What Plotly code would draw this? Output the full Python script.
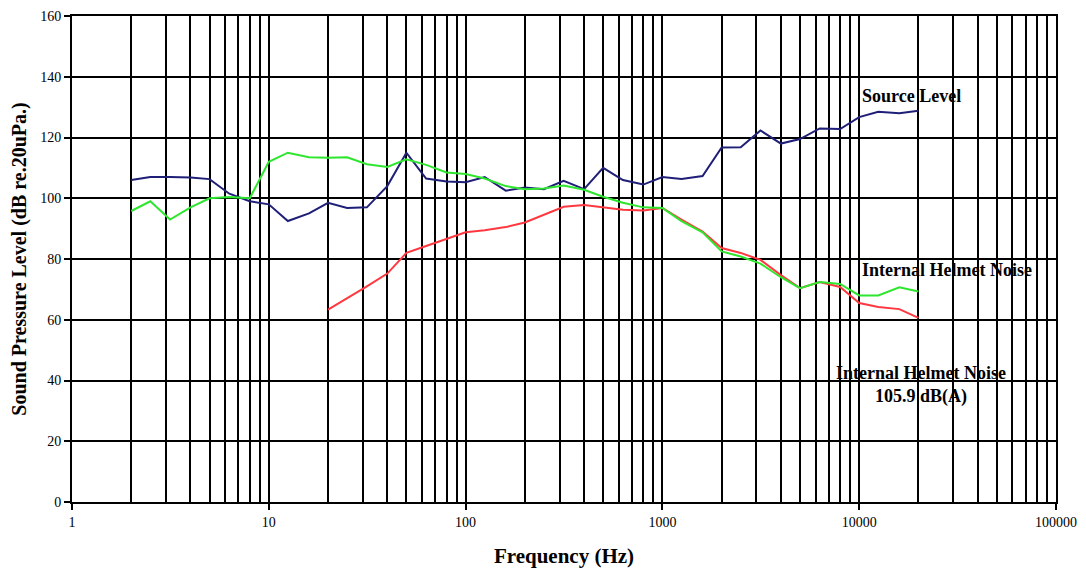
import plotly.graph_objects as go

freq = [2, 2.5, 3.15, 4, 5, 6.3, 8, 10, 12.5, 16, 20, 25, 31.5, 40, 50, 63, 80, 100, 125, 160,
        200, 250, 315, 400, 500, 630, 800, 1000, 1250, 1600, 2000, 2500, 3150, 4000, 5000,
        6300, 8000, 10000, 12500, 16000, 20000]

source_level = [106, 107, 107, 106.8, 106.3, 101.5, 99, 98, 92.5, 95, 98.5, 96.8, 97, 104, 115,
                106.5, 105.5, 105.3, 107, 102.5, 103.5, 103, 105.7, 103, 110, 106, 104.5, 107,
                106.3, 107.3, 116.7, 116.8, 122.3, 118, 119.5, 123, 122.8, 126.7, 128.5, 128, 128.8]

helmet_noise = [95.8, 99, 93, 97, 100, 100.4, 100, 112, 115, 113.5, 113.3, 113.5, 111.2, 110.3,
                112.8, 111, 108.5, 108, 106.5, 104, 103, 103.2, 104.2, 102.8, 100.5, 98.5, 97,
                96.8, 92.5, 88.8, 82.5, 80.8, 78.5, 74, 70.4, 72.4, 71.8, 68, 68, 70.7, 69.3]

freq_a = freq[10:]
helmet_noise_a = [63.3, 67, 71, 75.2, 82, 84.3, 86.5, 88.8, 89.5, 90.5, 92, 94.5, 97.2, 97.8,
                  97, 96.2, 96, 96.8, 93, 89, 83.6, 82, 79.7, 74.7, 70.4, 72.4, 70.8, 65.5,
                  64.2, 63.5, 60.6]

y_ticks = [0, 20, 40, 60, 80, 100, 120, 140, 160]
x_ticks = [1, 10, 100, 1000, 10000, 100000]

FONT = "Liberation Serif"

fig = go.Figure()
fig.add_trace(go.Scatter(x=freq, y=source_level, mode="lines", name="Source Level",
                         line=dict(color="#1f1f78", width=2)))
fig.add_trace(go.Scatter(x=freq_a, y=helmet_noise_a, mode="lines", name="Internal Helmet Noise dB(A)",
                         line=dict(color="#ff3840", width=2)))
fig.add_trace(go.Scatter(x=freq, y=helmet_noise, mode="lines", name="Internal Helmet Noise",
                         line=dict(color="#2ee62e", width=2)))

fig.update_layout(
    width=1086, height=574,
    margin=dict(l=64, r=38, t=8, b=80),
    paper_bgcolor="white", plot_bgcolor="white",
    showlegend=False,
    font=dict(family=FONT, color="black", size=14),
    xaxis=dict(
        type="log", range=[0, 5], automargin=False,
        tickvals=x_ticks, ticktext=[str(v) for v in x_ticks],
        showgrid=True, gridcolor="black", gridwidth=2,
        minor=dict(dtick="D1", showgrid=True, gridcolor="black", gridwidth=2, ticks=""),
        showline=True, linecolor="black", linewidth=2, mirror=True,
        ticks="outside", ticklen=6, tickcolor="black", tickwidth=1.5,
        tickfont=dict(family=FONT, size=14),
        title=dict(text="<b>Frequency (Hz)</b>", font=dict(family=FONT, size=21), standoff=20),
        zeroline=False,
    ),
    yaxis=dict(
        range=[0, 160], tickvals=y_ticks, automargin=False,
        showgrid=True, gridcolor="black", gridwidth=2,
        showline=True, linecolor="black", linewidth=2, mirror=True,
        ticks="outside", ticklen=6, tickcolor="black", tickwidth=1.5,
        tickfont=dict(family=FONT, size=14),
        title=dict(text="<b>Sound Pressure Level (dB re.20uPa.)</b>", font=dict(family=FONT, size=20), standoff=8),
        zeroline=False,
    ),
)

ann_font = dict(family=FONT, size=18, color="black")
fig.add_annotation(x=4.004, y=133.6, xref="x", yref="y", text="<b>Source Level</b>",
                   showarrow=False, xanchor="left", yanchor="middle", font=ann_font)
fig.add_annotation(x=4.004, y=76.4, xref="x", yref="y", text="<b>Internal Helmet Noise</b>",
                   showarrow=False, xanchor="left", yanchor="middle", font=ann_font)
fig.add_annotation(x=4.315, y=38.5, xref="x", yref="y",
                   text="<b>Internal Helmet Noise</b><br><b>105.9 dB(A)</b>",
                   showarrow=False, xanchor="center", yanchor="middle", align="center", font=ann_font)

fig.write_html("out.html")
